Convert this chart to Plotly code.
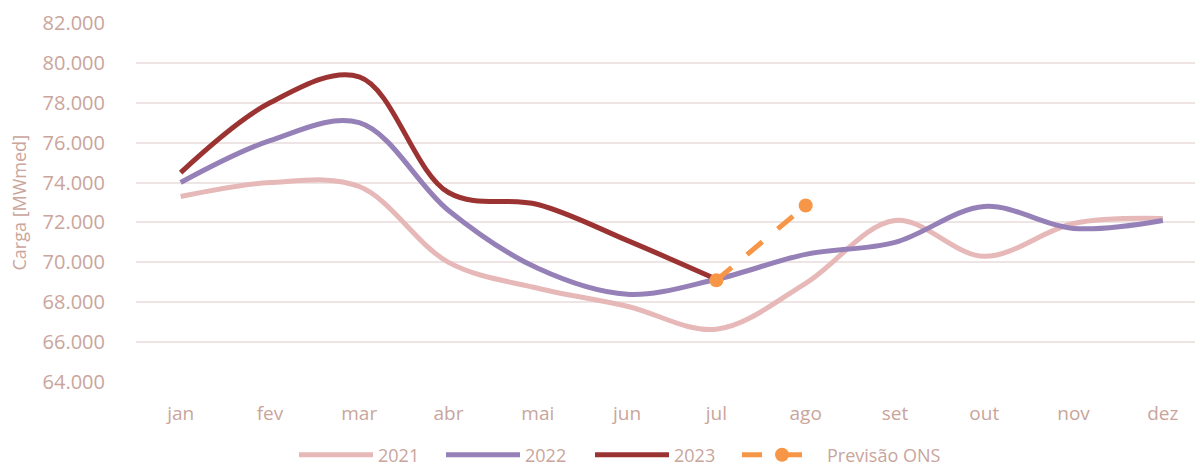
import plotly.graph_objects as go

meses = ["jan", "fev", "mar", "abr", "mai", "jun", "jul", "ago", "set", "out", "nov", "dez"]
carga_2021 = [73300, 74000, 73800, 70000, 68700, 67800, 66650, 68950, 72100, 70300, 71950, 72200]
carga_2022 = [74000, 76100, 77000, 72600, 69700, 68400, 69150, 70400, 71000, 72800, 71700, 72100]
carga_2023 = [74500, 78000, 79300, 73500, 72900, 71100, 69150]
meses_prev = ["jul", "ago"]
previsao_ons = [69100, 72850]

txt = "#c9a59c"
W, H = 1195, 465
L, T, B, R = 128, 15, 91, 0
PW = W - L - R
fig = go.Figure()
fig.add_trace(go.Scatter(x=meses, y=carga_2021, name="2021", mode="lines", legend="legend",
                         line=dict(color="#e6b9b8", width=5, shape="spline", smoothing=1.0)))
fig.add_trace(go.Scatter(x=meses, y=carga_2022, name="2022", mode="lines", legend="legend2",
                         line=dict(color="#9580b8", width=5, shape="spline", smoothing=1.0)))
fig.add_trace(go.Scatter(x=meses[:len(carga_2023)], y=carga_2023, name="2023", mode="lines",
                         legend="legend3",
                         line=dict(color="#9c3333", width=5, shape="spline", smoothing=1.0)))
fig.add_trace(go.Scatter(x=meses_prev, y=previsao_ons, name="Previsão ONS", mode="lines+markers",
                         legend="legend4",
                         line=dict(color="#f79646", width=5, dash="20px,20px"),
                         marker=dict(size=14, color="#f79646")))

leg_y = -(447 - 374) / 359
def leg(px, iw):
    return dict(orientation="h", x=(px - L) / PW, xanchor="left", y=leg_y, yanchor="middle",
                font=dict(size=18, color=txt), itemwidth=iw, bgcolor="rgba(0,0,0,0)")

fig.update_layout(
    width=W, height=H,
    margin=dict(l=L, r=R, t=T, b=B, autoexpand=False),
    plot_bgcolor="white", paper_bgcolor="white",
    font=dict(family="Open Sans, Lato, sans-serif", color=txt, size=18),
    showlegend=True,
    legend=leg(286, 74), legend2=leg(433, 74), legend3=leg(582, 74), legend4=leg(729, 80),
    xaxis=dict(type="category", categoryorder="array", categoryarray=meses,
               range=[-0.5, 11.45], showgrid=False, showline=False, zeroline=False,
               ticks="", tickfont=dict(size=19, color=txt), automargin=False,
               ticklabelstandoff=18),
    yaxis=dict(range=[64000, 82000], dtick=2000, tickformat=",.0f",
               showgrid=True, gridcolor="#efe4e4", gridwidth=2, zeroline=False,
               ticks="", tickfont=dict(size=20, color=txt), automargin=False,
               ticklabelstandoff=30),
    annotations=[dict(text="Carga [MWmed]", textangle=-90, xref="paper", yref="paper",
                      x=(10 - L) / PW, y=0.5, xanchor="center", yanchor="middle",
                      showarrow=False, font=dict(size=18, color=txt))],
    separators=",.",
)
fig.write_html("out.html")
